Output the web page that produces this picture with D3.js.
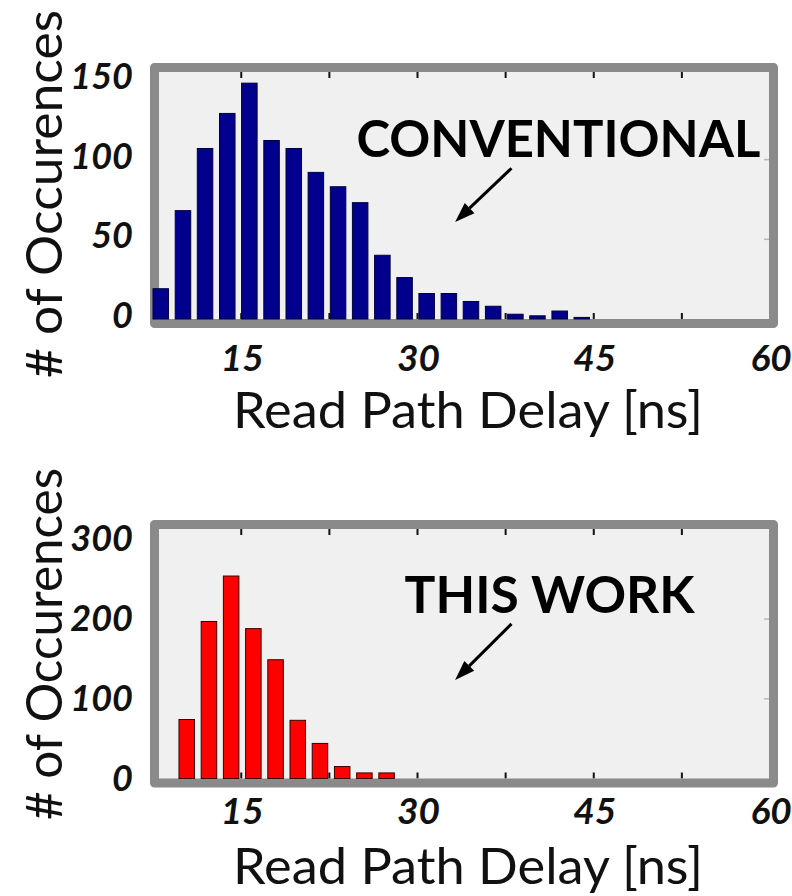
<!DOCTYPE html>
<html>
<head>
<meta charset="utf-8">
<script src="https://cdn.jsdelivr.net/npm/d3@7"></script>
<style>
  html, body { margin: 0; padding: 0; background: #ffffff; }
  svg { display: block; }
</style>
</head>
<body>
<svg id="chart" width="792" height="896"></svg>
<script>
// Histogram bin centres (ns) and counts for the conventional read path
const convCenters = [8.15, 10.04, 11.92, 13.81, 15.69, 17.58, 19.47, 21.35, 23.24, 25.12,
                     27.01, 28.90, 30.78, 32.67, 34.55, 36.44, 38.33, 40.21, 42.10, 43.98];
const convCounts  = [19, 68, 107, 129, 148, 112, 107, 92, 83, 73,
                     40, 26, 16, 16, 11, 8, 3, 2, 5, 1];

// Histogram bin centres (ns) and counts for the proposed read path
const workCenters = [10.36, 12.25, 14.14, 16.03, 17.92, 19.81, 21.70, 23.59, 25.48, 27.37];
const workCounts  = [74, 197, 254, 188, 149, 73, 44, 15, 7, 7];

// Axis ticks
const delayTickLabels = [15, 30, 45, 60];
const delayTickMarks  = [15, 22.5, 30, 37.5, 45, 52.5];
const convCountTicks  = [0, 50, 100, 150];
const workCountTicks  = [0, 100, 200, 300];

const FONT = "Lato, 'Open Sans', sans-serif";
const svg = d3.select("#chart");

function drawPanel(p) {
  const g = svg.append("g");
  const x = d3.scaleLinear().domain([8, 60]).range([159, 770]);
  const y = d3.scaleLinear().domain([0, p.yMax]).range([p.y0, p.yTop]);

  const frameW = 9;
  const left = 159 - frameW / 2, right = 770 + frameW / 2 - 1;
  const top = p.yTop - frameW / 2, bottom = p.y0 + frameW / 2;

  // plot background
  g.append("rect")
    .attr("x", left).attr("y", top)
    .attr("width", right - left).attr("height", bottom - top)
    .attr("fill", "#f0f0f0");

  // inward tick marks on the top and bottom edges
  const tickLen = 6;
  g.selectAll(".tt").data(delayTickMarks).enter().append("line")
    .attr("x1", d => x(d)).attr("x2", d => x(d))
    .attr("y1", p.yTop).attr("y2", p.yTop + tickLen)
    .attr("stroke", "#111").attr("stroke-width", 2);
  g.selectAll(".tb").data(delayTickMarks).enter().append("line")
    .attr("x1", d => x(d)).attr("x2", d => x(d))
    .attr("y1", p.y0).attr("y2", p.y0 - tickLen)
    .attr("stroke", "#111").attr("stroke-width", 2);

  // faint count ticks on the right edge
  g.selectAll(".tr").data(p.yTicks.filter(v => v > 0 && y(v) > p.yTop + 12)).enter().append("line")
    .attr("x1", 770).attr("x2", 764)
    .attr("y1", d => y(d)).attr("y2", d => y(d))
    .attr("stroke", "#b8b8b8").attr("stroke-width", 1.5);

  // frame
  g.append("rect")
    .attr("x", left).attr("y", top)
    .attr("width", right - left).attr("height", bottom - top)
    .attr("fill", "none")
    .attr("stroke", "#8a8a8a")
    .attr("stroke-width", frameW)
    .attr("stroke-linejoin", "round");

  // bars
  const barW = 1.32;
  g.selectAll(".bar").data(p.centers.map((c, i) => ({ c, v: p.counts[i] }))).enter().append("rect")
    .attr("x", d => x(d.c - barW / 2))
    .attr("width", d => x(d.c + barW / 2) - x(d.c - barW / 2))
    .attr("y", d => y(d.v))
    .attr("height", d => y(0) - y(d.v))
    .attr("fill", p.fill)
    .attr("stroke", p.edge)
    .attr("stroke-width", 1);

  // count tick labels
  g.selectAll(".yl").data(p.yTicks).enter().append("text")
    .attr("x", 133)
    .attr("y", d => y(d) + p.yLabelShift)
    .attr("text-anchor", "end")
    .attr("font-family", FONT)
    .attr("font-weight", 700)
    .attr("font-style", "italic")
    .attr("font-size", 36)
    .attr("fill", "#111")
    .text(d => d);

  // delay tick labels
  g.selectAll(".xl").data(delayTickLabels).enter().append("text")
    .attr("x", d => x(d) + 1)
    .attr("y", p.xLabelBase)
    .attr("text-anchor", "middle")
    .attr("font-family", FONT)
    .attr("font-weight", 700)
    .attr("font-style", "italic")
    .attr("font-size", 37)
    .attr("fill", "#111")
    .text(d => d);

  // axis titles
  g.append("text")
    .attr("x", 468).attr("y", p.xTitleBase)
    .attr("text-anchor", "middle")
    .attr("font-family", FONT)
    .attr("font-size", 51)
    .attr("fill", "#111")
    .attr("textLength", 470)
    .attr("lengthAdjust", "spacingAndGlyphs")
    .text("Read Path Delay [ns]");

  g.append("text")
    .attr("transform", `translate(62,${p.yTitleMid}) rotate(-90)`)
    .attr("text-anchor", "middle")
    .attr("font-family", FONT)
    .attr("font-size", 51)
    .attr("fill", "#111")
    .attr("textLength", p.yTitleLen)
    .attr("lengthAdjust", "spacingAndGlyphs")
    .text("# of Occurences");

  // annotation text and arrow
  g.append("text")
    .attr("x", x(p.note.x)).attr("y", y(p.note.y))
    .attr("font-family", FONT)
    .attr("font-weight", 700)
    .attr("font-size", 52)
    .attr("fill", "#000")
    .attr("textLength", p.note.len)
    .attr("lengthAdjust", "spacingAndGlyphs")
    .text(p.note.text);

  const x1 = x(p.arrow.from[0]), y1 = y(p.arrow.from[1]);
  const x2 = x(p.arrow.to[0]),   y2 = y(p.arrow.to[1]);
  const ang = Math.atan2(y2 - y1, x2 - x1);
  const headL = 20, headW = 7;
  const bx = x2 - headL * Math.cos(ang), by = y2 - headL * Math.sin(ang);
  g.append("line")
    .attr("x1", x1).attr("y1", y1).attr("x2", bx).attr("y2", by)
    .attr("stroke", "#000").attr("stroke-width", 3);
  const nx = -Math.sin(ang), ny = Math.cos(ang);
  g.append("path")
    .attr("d", `M${x2},${y2} L${bx + nx * headW},${by + ny * headW} L${bx - nx * headW},${by - ny * headW} Z`)
    .attr("fill", "#000");
}

drawPanel({
  centers: convCenters, counts: convCounts,
  yMax: 155, y0: 319, yTop: 72, yTicks: convCountTicks, yLabelShift: 9,
  fill: "#00008c", edge: "#00003a",
  xLabelBase: 371, xTitleBase: 428, yTitleMid: 194, yTitleLen: 368,
  note: { text: "CONVENTIONAL", x: 24.8, y: 101.9, len: 404 },
  arrow: { from: [38.0, 94.6], to: [33.2, 60.9] }
});

drawPanel({
  centers: workCenters, counts: workCounts,
  yMax: 313, y0: 778.5, yTop: 529, yTicks: workCountTicks, yLabelShift: 12,
  fill: "#ff0000", edge: "#3a0000",
  xLabelBase: 824, xTitleBase: 884, yTitleMid: 644, yTitleLen: 352,
  note: { text: "THIS WORK", x: 28.9, y: 207.3, len: 290 },
  arrow: { from: [38.0, 193.9], to: [33.2, 123.6] }
});
</script>
</body>
</html>
